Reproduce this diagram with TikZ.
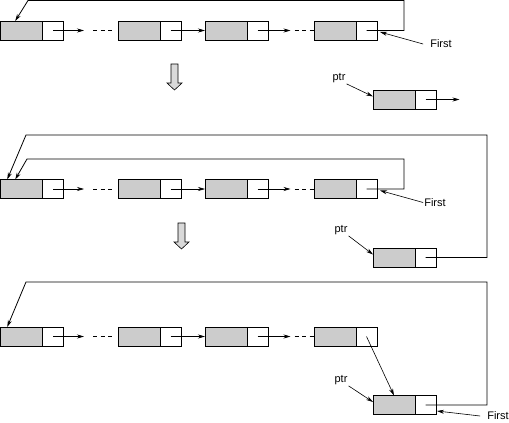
\documentclass[tikz,border=0pt]{standalone}
\usepackage{fontspec}
\setsansfont{Liberation Sans}
\usetikzlibrary{arrows.meta,calc}
\tikzset{
    cell/.style ={rectangle,minimum width=42pt,minimum height=19pt,inner sep=0pt,outer sep=0pt,anchor=west,draw,line width=0.8pt,fill=gray!40},
    nextbox/.style ={rectangle,minimum width=21pt,minimum height=19pt,inner sep=0pt,outer sep=0pt,anchor=west,draw,line width=0.8pt,fill=white},
    lbl/.style={font=\sffamily\fontsize{11}{13}\selectfont,inner sep=1pt},
    ptr/.style={-{Stealth[length=7pt,width=4pt]},line width=0.6pt},
    ring/.style={ptr,line width=0.8pt},
    dots/.style={dash pattern=on 4pt off 3.5pt,line width=0.6pt},
    bigarrow/.style={draw,fill=gray!30,line width=0.6pt}}
\begin{document}
\begin{tikzpicture}[x=1pt,y=-1pt]
    \useasboundingbox (0,0) rectangle (509,423);
    % the three lists
    \foreach \r/\y in {a/30.5,b/189,c/336.5}{
        \foreach \i/\x in {1/0.5,2/118,3/205,4/314}{
            \node[cell] (\r\i) at (\x,\y) {};
            \node[nextbox] (\r\i p) at (\r\i.east) {};
        }
        \draw[ptr] (\r1p.center) -- ++(31,0) coordinate (\r d1);
        \draw[dots] ($(\r d1)+(9,0)$) -- ($(\r2.west)+(-6,0)$);
        \draw[ptr] (\r2p.center) -- (\r3.west);
        \draw[ptr] (\r3p.center) -- ++(33,0) coordinate (\r d3);
        \draw[dots] ($(\r d3)+(4,0)$) -- (\r4.west);
    }
    % new nodes
    \node[cell] (p1) at (373,99.5) {};
    \node[nextbox] (p1p) at (p1.east) {};
    \node[cell] (p2) at (373,257.5) {};
    \node[nextbox] (p2p) at (p2.east) {};
    \node[cell] (p3) at (373,405) {};
    \node[nextbox] (p3p) at (p3.east) {};
    % labels
    \node[lbl] (first1) at (441,44) {First};
    \node[lbl] (first2) at (435,202.5) {First};
    \node[lbl] (first3) at (498,416) {First};
    \node[lbl] (ptrl1) at (339,78) {ptr};
    \node[lbl] (ptrl2) at (341,230) {ptr};
    \node[lbl] (ptrl3) at (341,380) {ptr};
    % step 1
    \draw[ring] (a4p.center) -- ++(37.5,0) |- (28,0.5)
        -- ($(a1.north west)!.35!(a1.north east)$);
    \draw[ptr] ([xshift=-6pt]first1.west) -- ([xshift=3pt,yshift=-1.5pt]a4p.east);
    \draw[ptr] (ptrl1.south east) -- ([yshift=3pt]p1.west);
    \draw[ptr] (p1p.center) -- ++(34,0);
    % step 2
    \draw[ring] (b4p.center) -- ++(37.5,0) |- (27,159)
        -- ($(b1.north west)!.35!(b1.north east)$);
    \draw[ring] (p2p.center) -| (487,135) -- (26,135)
        -- ($(b1.north west)!.16!(b1.north east)$);
    \draw[ptr] (first2.west) -- ([xshift=3pt,yshift=-1.5pt]b4p.east);
    \draw[ptr] (ptrl2.south east) -- ([yshift=3pt]p2.west);
    % step 3
    \draw[ring] (p3p.center) -| (487,282) -- (26,282)
        -- ($(c1.north west)!.16!(c1.north east)$);
    \draw[ptr] (c4p.center) -- (p3.north);
    \draw[ptr] ([xshift=-6pt]first3.west) -- ([xshift=1pt,yshift=-6pt]p3p.east);
    \draw[ptr] (ptrl3.south east) -- ([yshift=3pt]p3.west);
    % down arrows
    \foreach \x/\y in {174.5/64,181.5/223}
        \draw[bigarrow] (\x-3.5,\y) -- ++(7,0) -- ++(0,19) -- ++(4,0) -- ++(-7.5,7)
            -- ++(-7.5,-7) -- ++(4,0) -- cycle;
\end{tikzpicture}
\end{document}
